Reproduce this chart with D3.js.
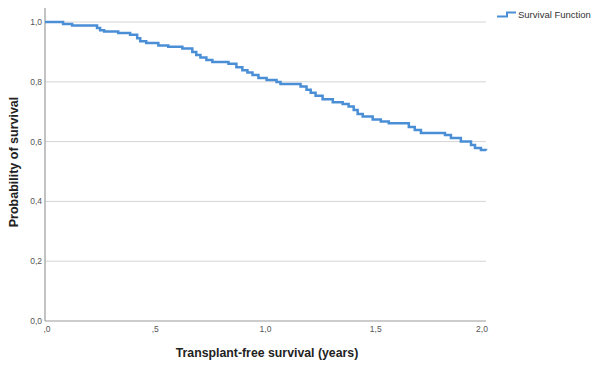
<!DOCTYPE html>
<html lang="en">

<head>
    <meta charset="UTF-8">
    <title>Survival Function</title>
    <script src="https://d3js.org/d3.v7.min.js"></script>
    <style>
        body { margin: 0; background: #fff; }
        text { font-family: "Liberation Sans", Arial, sans-serif; }
    </style>
</head>

<body>
    <svg width="593" height="365"></svg>
    <script>
        // step times (years) and survival after each step
        let times = [0, 0.082, 0.123, 0.236, 0.25, 0.268, 0.332, 0.386, 0.418, 0.432, 0.459,
            0.514, 0.559, 0.623, 0.668, 0.686, 0.705, 0.732, 0.759, 0.832, 0.868, 0.895,
            0.918, 0.941, 0.968, 1.005, 1.05, 1.068, 1.159, 1.186, 1.205, 1.227, 1.259,
            1.305, 1.35, 1.377, 1.4, 1.418, 1.441, 1.486, 1.523, 1.559, 1.65, 1.677,
            1.705, 1.814, 1.841, 1.886, 1.932, 1.95, 1.977, 2.0];
        let survival = [1.0, 0.993, 0.988, 0.98, 0.972, 0.968, 0.963, 0.957, 0.946, 0.936, 0.93,
            0.921, 0.917, 0.911, 0.9, 0.89, 0.881, 0.873, 0.866, 0.86, 0.849, 0.839,
            0.831, 0.823, 0.813, 0.806, 0.799, 0.793, 0.784, 0.773, 0.763, 0.753, 0.742,
            0.732, 0.726, 0.717, 0.706, 0.692, 0.684, 0.674, 0.667, 0.661, 0.649, 0.639,
            0.629, 0.622, 0.612, 0.6, 0.589, 0.579, 0.572, 0.57];
        let xTicks = [0, 0.5, 1.0, 1.5, 2.0];
        let xTickLabels = [',0', ',5', '1,0', '1,5', '2,0'];
        let yTicks = [0, 0.2, 0.4, 0.6, 0.8, 1.0];
        let yTickLabels = ['0,0', '0,2', '0,4', '0,6', '0,8', '1,0'];

        let svg = d3.select('svg');
        let x = d3.scaleLinear().domain([0, 2]).range([45, 486]);
        let y = d3.scaleLinear().domain([0, 1]).range([321, 22]);

        // gridlines
        svg.append('g')
            .selectAll('line')
            .data(yTicks.filter(d => d > 0))
            .join('line')
            .attr('x1', x(0)).attr('x2', x(2))
            .attr('y1', d => y(d)).attr('y2', d => y(d))
            .attr('stroke', '#d4d4d4').attr('stroke-width', 1);

        // axis lines
        svg.append('line')
            .attr('x1', x(0)).attr('x2', x(0)).attr('y1', 8).attr('y2', y(0))
            .attr('stroke', '#9a9a9a').attr('stroke-width', 1.2);
        svg.append('line')
            .attr('x1', x(0)).attr('x2', x(2)).attr('y1', y(0)).attr('y2', y(0))
            .attr('stroke', '#9a9a9a').attr('stroke-width', 1.2);

        // tick labels
        svg.append('g')
            .selectAll('text')
            .data(yTicks)
            .join('text')
            .attr('x', 42)
            .attr('y', d => y(d) + 3)
            .attr('text-anchor', 'end')
            .attr('font-size', 8.5)
            .attr('fill', '#555')
            .text((d, i) => yTickLabels[i]);

        svg.append('g')
            .selectAll('text')
            .data(xTicks)
            .join('text')
            .attr('x', d => x(d) + (d == 0 ? 2 : d == 2 ? -4 : 0))
            .attr('y', 332)
            .attr('text-anchor', 'middle')
            .attr('font-size', 8.5)
            .attr('fill', '#555')
            .text((d, i) => xTickLabels[i]);

        // survival curve
        let data = times.map((t, i) => ({ t: t, s: survival[i] }));
        let line = d3.line()
            .x(d => x(d.t))
            .y(d => y(d.s))
            .curve(d3.curveStepAfter);

        svg.append('path')
            .datum(data)
            .attr('d', line)
            .attr('fill', 'none')
            .attr('stroke', '#4a8fd6')
            .attr('stroke-width', 2.5);

        // axis titles
        svg.append('text')
            .attr('x', 267).attr('y', 357)
            .attr('text-anchor', 'middle')
            .attr('font-size', 12.3).attr('font-weight', 'bold')
            .attr('fill', '#222')
            .text('Transplant-free survival (years)');

        svg.append('text')
            .attr('transform', 'translate(18,162) rotate(-90)')
            .attr('text-anchor', 'middle')
            .attr('font-size', 12.5).attr('font-weight', 'bold')
            .attr('fill', '#222')
            .text('Probability of survival');

        // legend
        svg.append('path')
            .attr('d', 'M497,16.5H507V12.5H516')
            .attr('fill', 'none')
            .attr('stroke', '#4a8fd6')
            .attr('stroke-width', 2);
        svg.append('text')
            .attr('x', 518).attr('y', 18)
            .attr('font-size', 9.5)
            .attr('fill', '#333')
            .text('Survival Function');
    </script>
</body>

</html>
